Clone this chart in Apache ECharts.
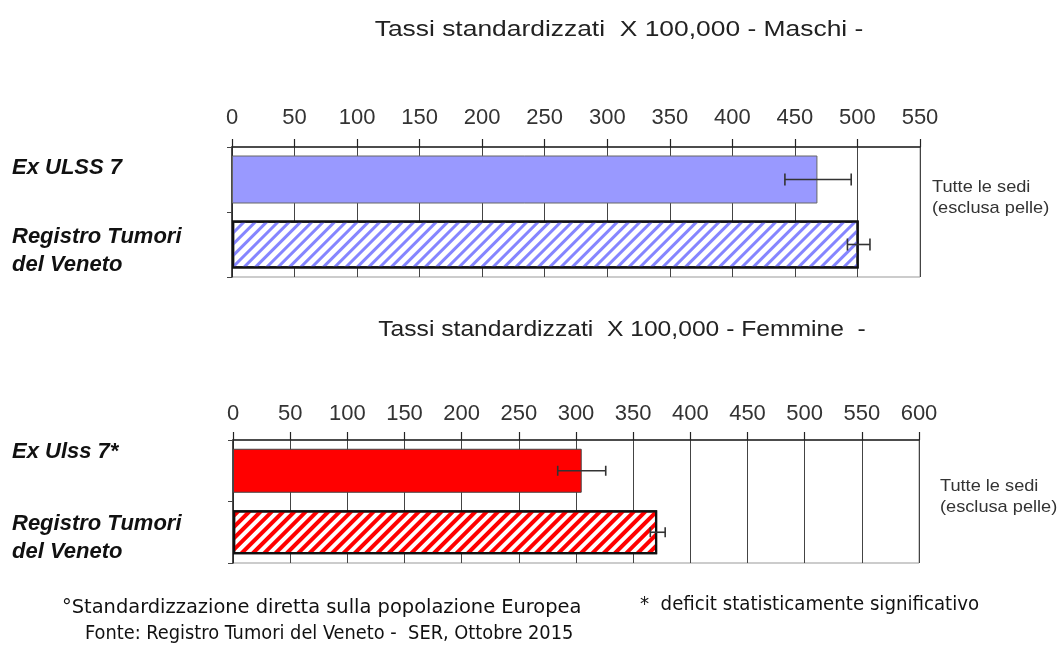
<!DOCTYPE html>
<html>
<head>
<meta charset="utf-8">
<script src="https://cdn.jsdelivr.net/npm/echarts@6/dist/echarts.min.js"></script>
<style>
html,body{margin:0;padding:0;background:#fff;}
#chart{width:1058px;height:646px;}
</style>
</head>
<body>
<div id="chart"></div>
<script>
// ---- data ----
const titleMaschi = 'Tassi standardizzati  X 100,000 - Maschi -';
const titleFemmine = 'Tassi standardizzati  X 100,000 - Femmine  -';
const categoriesM = ['Ex ULSS 7', 'Registro Tumori\ndel Veneto'];
const categoriesF = ['Ex Ulss 7*', 'Registro Tumori\ndel Veneto'];
const valuesM = [468, 501];
const errLowM = [442, 492];
const errHighM = [495, 510];
const valuesF = [305, 371];
const errLowF = [284, 365];
const errHighF = [326, 378];
const axisMaxM = 550;
const axisMaxF = 600;
const tickStep = 50;
const siteLabel = 'Tutte le sedi\n(esclusa pelle)';
const footLeft1 = '°Standardizzazione diretta sulla popolazione Europea';
const footLeft2 = 'Fonte: Registro Tumori del Veneto -  SER, Ottobre 2015';
const footRight = '*  deficit statisticamente significativo';

// ---- chart ----
const chart = echarts.init(document.getElementById('chart'), null, {renderer: 'canvas'});
const FONT = 'Liberation Sans, Arial, sans-serif';
const NARROW = 'Liberation Sans Narrow, DejaVu Sans Condensed, sans-serif';

function xAxisCfg(gridIndex, max, margin) {
  return {
    gridIndex, type: 'value', position: 'top', min: 0, max, interval: tickStep,
    axisLine: {show: true, lineStyle: {color: '#222', width: 1.5}},
    axisTick: {show: true, inside: false, length: 8, lineStyle: {color: '#222', width: 1.2}},
    axisLabel: {color: '#333', fontFamily: FONT, fontSize: 22, margin},
    splitLine: {show: true, lineStyle: {color: '#444', width: 1}}
  };
}
function yAxisCfg(gridIndex, cats) {
  return {
    gridIndex, type: 'category', data: cats, inverse: true,
    axisLine: {show: true, lineStyle: {color: '#222', width: 1.5}},
    axisTick: {show: true, length: 5, lineStyle: {color: '#444'}},
    axisLabel: {show: false},
    splitLine: {show: false}
  };
}
function barData(values, solidColor, stripeColor, borderSolid, dashY) {
  return values.map((v, i) => i === 0 ? {
    value: v,
    itemStyle: {color: solidColor, borderColor: borderSolid, borderWidth: 1}
  } : {
    value: v,
    itemStyle: {
      color: '#ffffff', borderColor: '#111', borderWidth: 2.2,
      decal: {symbol: 'rect', color: stripeColor, dashArrayX: [1, 0], dashArrayY: dashY, rotation: -Math.PI / 4, symbolSize: 1}
    }
  });
}
function errData(values, lows, highs) {
  return values.map((v, i) => [lows[i], highs[i], i]);
}
function errRender(capHalf) {
  return function (params, api) {
    const lo = api.coord([api.value(0), api.value(2)]);
    const hi = api.coord([api.value(1), api.value(2)]);
    const style = {stroke: '#333', lineWidth: 1.6};
    return {
      type: 'group',
      children: [
        {type: 'line', shape: {x1: lo[0], y1: lo[1], x2: hi[0], y2: hi[1]}, style},
        {type: 'line', shape: {x1: lo[0], y1: lo[1] - capHalf, x2: lo[0], y2: lo[1] + capHalf}, style},
        {type: 'line', shape: {x1: hi[0], y1: hi[1] - capHalf, x2: hi[0], y2: hi[1] + capHalf}, style}
      ]
    };
  };
}
function txt(x, y, text, font, fill, opts) {
  opts = opts || {};
  return {
    type: 'text', x, y, scaleX: opts.sx || 1,
    style: {text, font, fill: fill || '#222', lineHeight: opts.lh || 20, align: opts.align || 'left', verticalAlign: opts.va || 'middle'}
  };
}
const CAT_FONT = 'italic bold 22px ' + FONT;

const option = {
  animation: false,
  backgroundColor: '#ffffff',
  grid: [
    {left: 232, right: 138, top: 147, height: 130, show: true, borderColor: '#999', borderWidth: 1, backgroundColor: 'transparent'},
    {left: 233, right: 139, top: 440, height: 123, show: true, borderColor: '#999', borderWidth: 1, backgroundColor: 'transparent'}
  ],
  xAxis: [xAxisCfg(0, axisMaxM, 18), xAxisCfg(1, axisMaxF, 15)],
  yAxis: [yAxisCfg(0, categoriesM), yAxisCfg(1, categoriesF)],
  series: [
    {type: 'bar', xAxisIndex: 0, yAxisIndex: 0, barWidth: 48, data: barData(valuesM, '#9999ff', '#8585ff', '#666', [3, 5])},
    {type: 'bar', xAxisIndex: 1, yAxisIndex: 1, barWidth: 44, data: barData(valuesF, '#ff0000', '#ff0000', '#444', [4, 4])},
    {type: 'custom', xAxisIndex: 0, yAxisIndex: 0, renderItem: errRender(6), data: errData(valuesM, errLowM, errHighM), z: 5},
    {type: 'custom', xAxisIndex: 1, yAxisIndex: 1, renderItem: errRender(5), data: errData(valuesF, errLowF, errHighF), z: 5}
  ],
  graphic: [
    txt(619, 30, titleMaschi, '22px ' + FONT, '#222', {align: 'center', sx: 1.2}),
    txt(622, 330, titleFemmine, '22px ' + FONT, '#222', {align: 'center', sx: 1.12}),
    txt(932, 198, siteLabel, '17px ' + FONT, '#333', {lh: 21, sx: 1.07}),
    txt(940, 497, siteLabel, '17px ' + FONT, '#333', {lh: 21, sx: 1.07}),
    txt(12, 154, categoriesM[0], CAT_FONT, '#111', {lh: 28, va: 'top'}),
    txt(12, 223, categoriesM[1], CAT_FONT, '#111', {lh: 28, va: 'top'}),
    txt(12, 438, categoriesF[0], CAT_FONT, '#111', {lh: 28, va: 'top'}),
    txt(12, 510, categoriesF[1], CAT_FONT, '#111', {lh: 28, va: 'top'}),
    txt(62, 608, footLeft1, '20px ' + NARROW, '#111', {sx: 1.08}),
    txt(85, 634, footLeft2, '20px ' + NARROW, '#111', {sx: 0.99}),
    txt(640, 605, footRight, '20px ' + NARROW, '#111', {sx: 1.01})
  ]
};
chart.setOption(option);
</script>
</body>
</html>
